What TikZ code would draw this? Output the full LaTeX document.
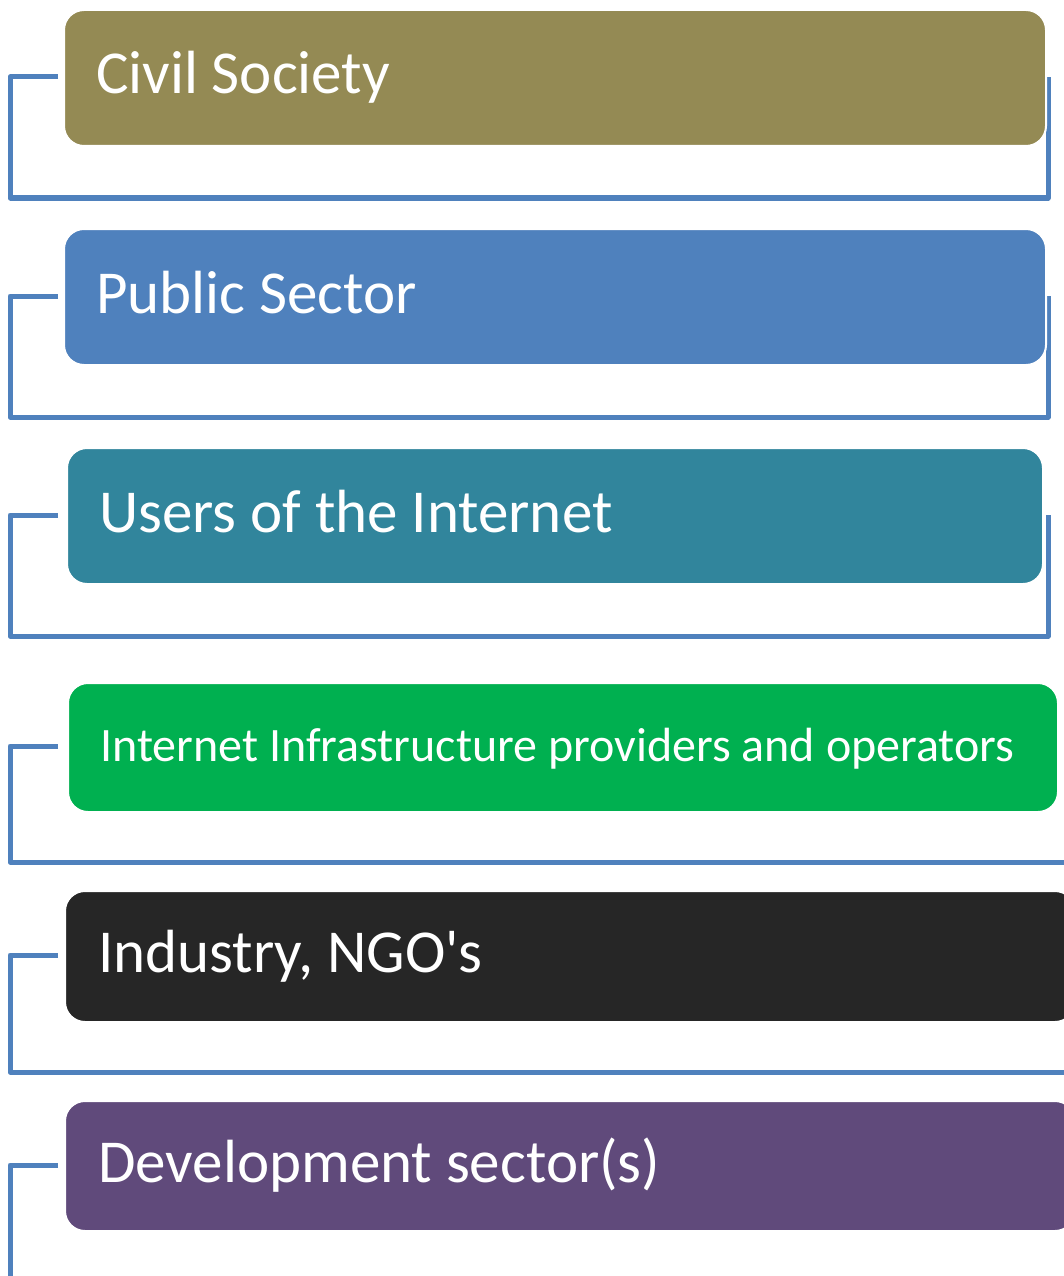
\documentclass[tikz,border=0pt]{standalone}
\usepackage{fontspec}
\setmainfont{Carlito}
\definecolor{cs}{HTML}{948A54}
\definecolor{ps}{HTML}{4F81BD}
\definecolor{ui}{HTML}{31859C}
\definecolor{ii}{HTML}{00B050}
\definecolor{ng}{HTML}{262626}
\definecolor{ds}{HTML}{604A7B}
\definecolor{conn}{HTML}{4F81BD}
\begin{document}
\begin{tikzpicture}[x=1pt,y=-1pt,
  box/.style={draw=white, line width=2pt, rounded corners=20pt, anchor=north west,
    inner sep=0pt},
  lbl/.style={anchor=base west, inner sep=0pt, text=white, font=\fontsize{61}{70}\selectfont},
  link/.style={draw=conn, line width=5pt, line join=round}]
\useasboundingbox (0,0) rectangle (1064,1276);
\clip (0,0) rectangle (1064,1276);
% coordinates for connectors
\coordinate (l1) at (58,77);   \coordinate (b1) at (10,198);  \coordinate (r1) at (1048,198);
\coordinate (l2) at (58,296);  \coordinate (b2) at (10,417);  \coordinate (r2) at (1048,417);
\coordinate (l3) at (58,515);  \coordinate (b3) at (10,636);  \coordinate (r3) at (1048,636);
\coordinate (l4) at (58,746);  \coordinate (b4) at (10,862);  \coordinate (r4) at (1080,862);
\coordinate (l5) at (58,955);  \coordinate (b5) at (10,1072); \coordinate (r5) at (1080,1072);
\coordinate (l6) at (58,1165); \coordinate (b6) at (10,1290);
% connectors
\path[link] (l1) -| (b1) -- (r1) -- (1048,77);
\path[link] (l2) -| (b2) -- (r2) -- (1048,296);
\path[link] (l3) -| (b3) -- (r3) -- (1048,515);
\path[link] (l4) -| (b4) -- (r4) -- (1080,746);
\path[link] (l5) -| (b5) -- (r5) -- (1080,955);
\path[link] (l6) -| (b6);
% boxes
\node[box, fill=cs, minimum width=982pt, minimum height=136pt] (n1) at (63,9) {};
\node[box, fill=ps, minimum width=982pt, minimum height=136pt] (n2) at (63,228) {};
\node[box, fill=ui, minimum width=976pt, minimum height=136pt] (n3) at (66,447) {};
\node[box, fill=ii, minimum width=990pt, minimum height=129pt] (n4) at (67,682) {};
\node[box, fill=ng, minimum width=1010pt, minimum height=131pt] (n5) at (64,890) {};
\node[box, fill=ds, minimum width=1010pt, minimum height=130pt] (n6) at (64,1100) {};
% labels
\node[lbl] (t1) at (96,94) {Civil Society};
\node[lbl] (t2) at (96,313) {Public Sector};
\node[lbl] (t3) at (99,532) {Users of the Internet};
\node[lbl, font=\fontsize{48}{58}\selectfont] (t4) at (100,761) {Internet Infrastructure providers and operators};
\node[lbl] (t5) at (98,972) {Industry, NGO\textquotesingle s};
\node[lbl] (t6) at (98,1182) {Development sector(s)};
\end{tikzpicture}
\end{document}
